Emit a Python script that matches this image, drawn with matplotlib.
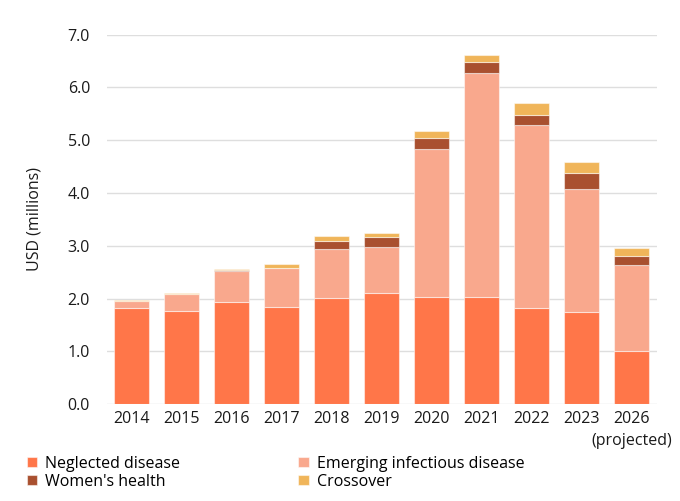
import matplotlib
matplotlib.use("Agg")
import matplotlib.pyplot as plt
import numpy as np

plt.rcParams['font.family'] = ['Open Sans', 'DejaVu Sans']

categories = ["2014", "2015", "2016", "2017", "2018", "2019", "2020", "2021", "2022", "2023", "2026"]
category_note = "(projected)"
neglected = [1.82, 1.77, 1.94, 1.85, 2.01, 2.11, 2.03, 2.03, 1.83, 1.75, 1.01]
emerging  = [0.13, 0.32, 0.59, 0.74, 0.93, 0.87, 2.81, 4.25, 3.46, 2.32, 1.63]
womens    = [0.01, 0.00, 0.01, 0.00, 0.15, 0.19, 0.21, 0.21, 0.18, 0.31, 0.17]
crossover = [0.01, 0.01, 0.02, 0.06, 0.10, 0.08, 0.13, 0.13, 0.24, 0.20, 0.14]

series = [
    ("Neglected disease", neglected, "#FF7649"),
    ("Emerging infectious disease", emerging, "#F9A88D"),
    ("Women's health", womens, "#A9502F"),
    ("Crossover", crossover, "#F0B55A"),
]

FS = 11.5
fig = plt.figure(figsize=(6.8, 5.01), dpi=100)
ax = fig.add_axes([0.157, 0.193, 0.809, 0.738])

x = np.arange(len(categories))
bottom = np.zeros(len(categories))
handles = []
for name, vals, col in series:
    vals = np.array(vals)
    b = ax.bar(x, vals, 0.7, bottom=bottom, color=col, edgecolor=(1, 1, 1, 0.5),
               linewidth=0.8, label=name, zorder=3)
    handles.append(b)
    bottom += vals

ax.set_xlim(-0.5, len(categories) - 0.5)
ax.set_ylim(0, 7.0)
ax.set_yticks(np.arange(0, 7.01, 1.0))
ax.set_yticklabels([f"{v:.1f}" for v in np.arange(0, 7.01, 1.0)])
ax.set_xticks(x)
ax.set_xticklabels(categories)
ax.grid(axis='y', color='#dedede', linewidth=1, zorder=0)
for s in ax.spines.values():
    s.set_visible(False)
ax.tick_params(axis='both', length=0, labelsize=FS, colors='#1a1a1a')
ax.tick_params(axis='y', pad=12)
ax.tick_params(axis='x', pad=5)
ax.set_ylabel("USD (millions)", fontsize=FS, color='#1a1a1a', labelpad=18)

ax.annotate(category_note, xy=(x[-1], 0), xycoords=('data', 'axes fraction'),
            xytext=(0, -20.5), textcoords='offset points', ha='center', va='top',
            fontsize=FS, color='#1a1a1a', annotation_clip=False)

leg = fig.legend(handles=[handles[0], handles[2], handles[1], handles[3]],
                 labels=["Neglected disease", "Women's health", "Emerging infectious disease", "Crossover"],
                 loc='lower left', bbox_to_anchor=(0.018, -0.006), ncol=2, frameon=False,
                 fontsize=FS, handlelength=0.65, handleheight=0.65, handletextpad=0.5,
                 columnspacing=7.4, labelspacing=0.12)

fig.savefig("out.png", dpi=100)
